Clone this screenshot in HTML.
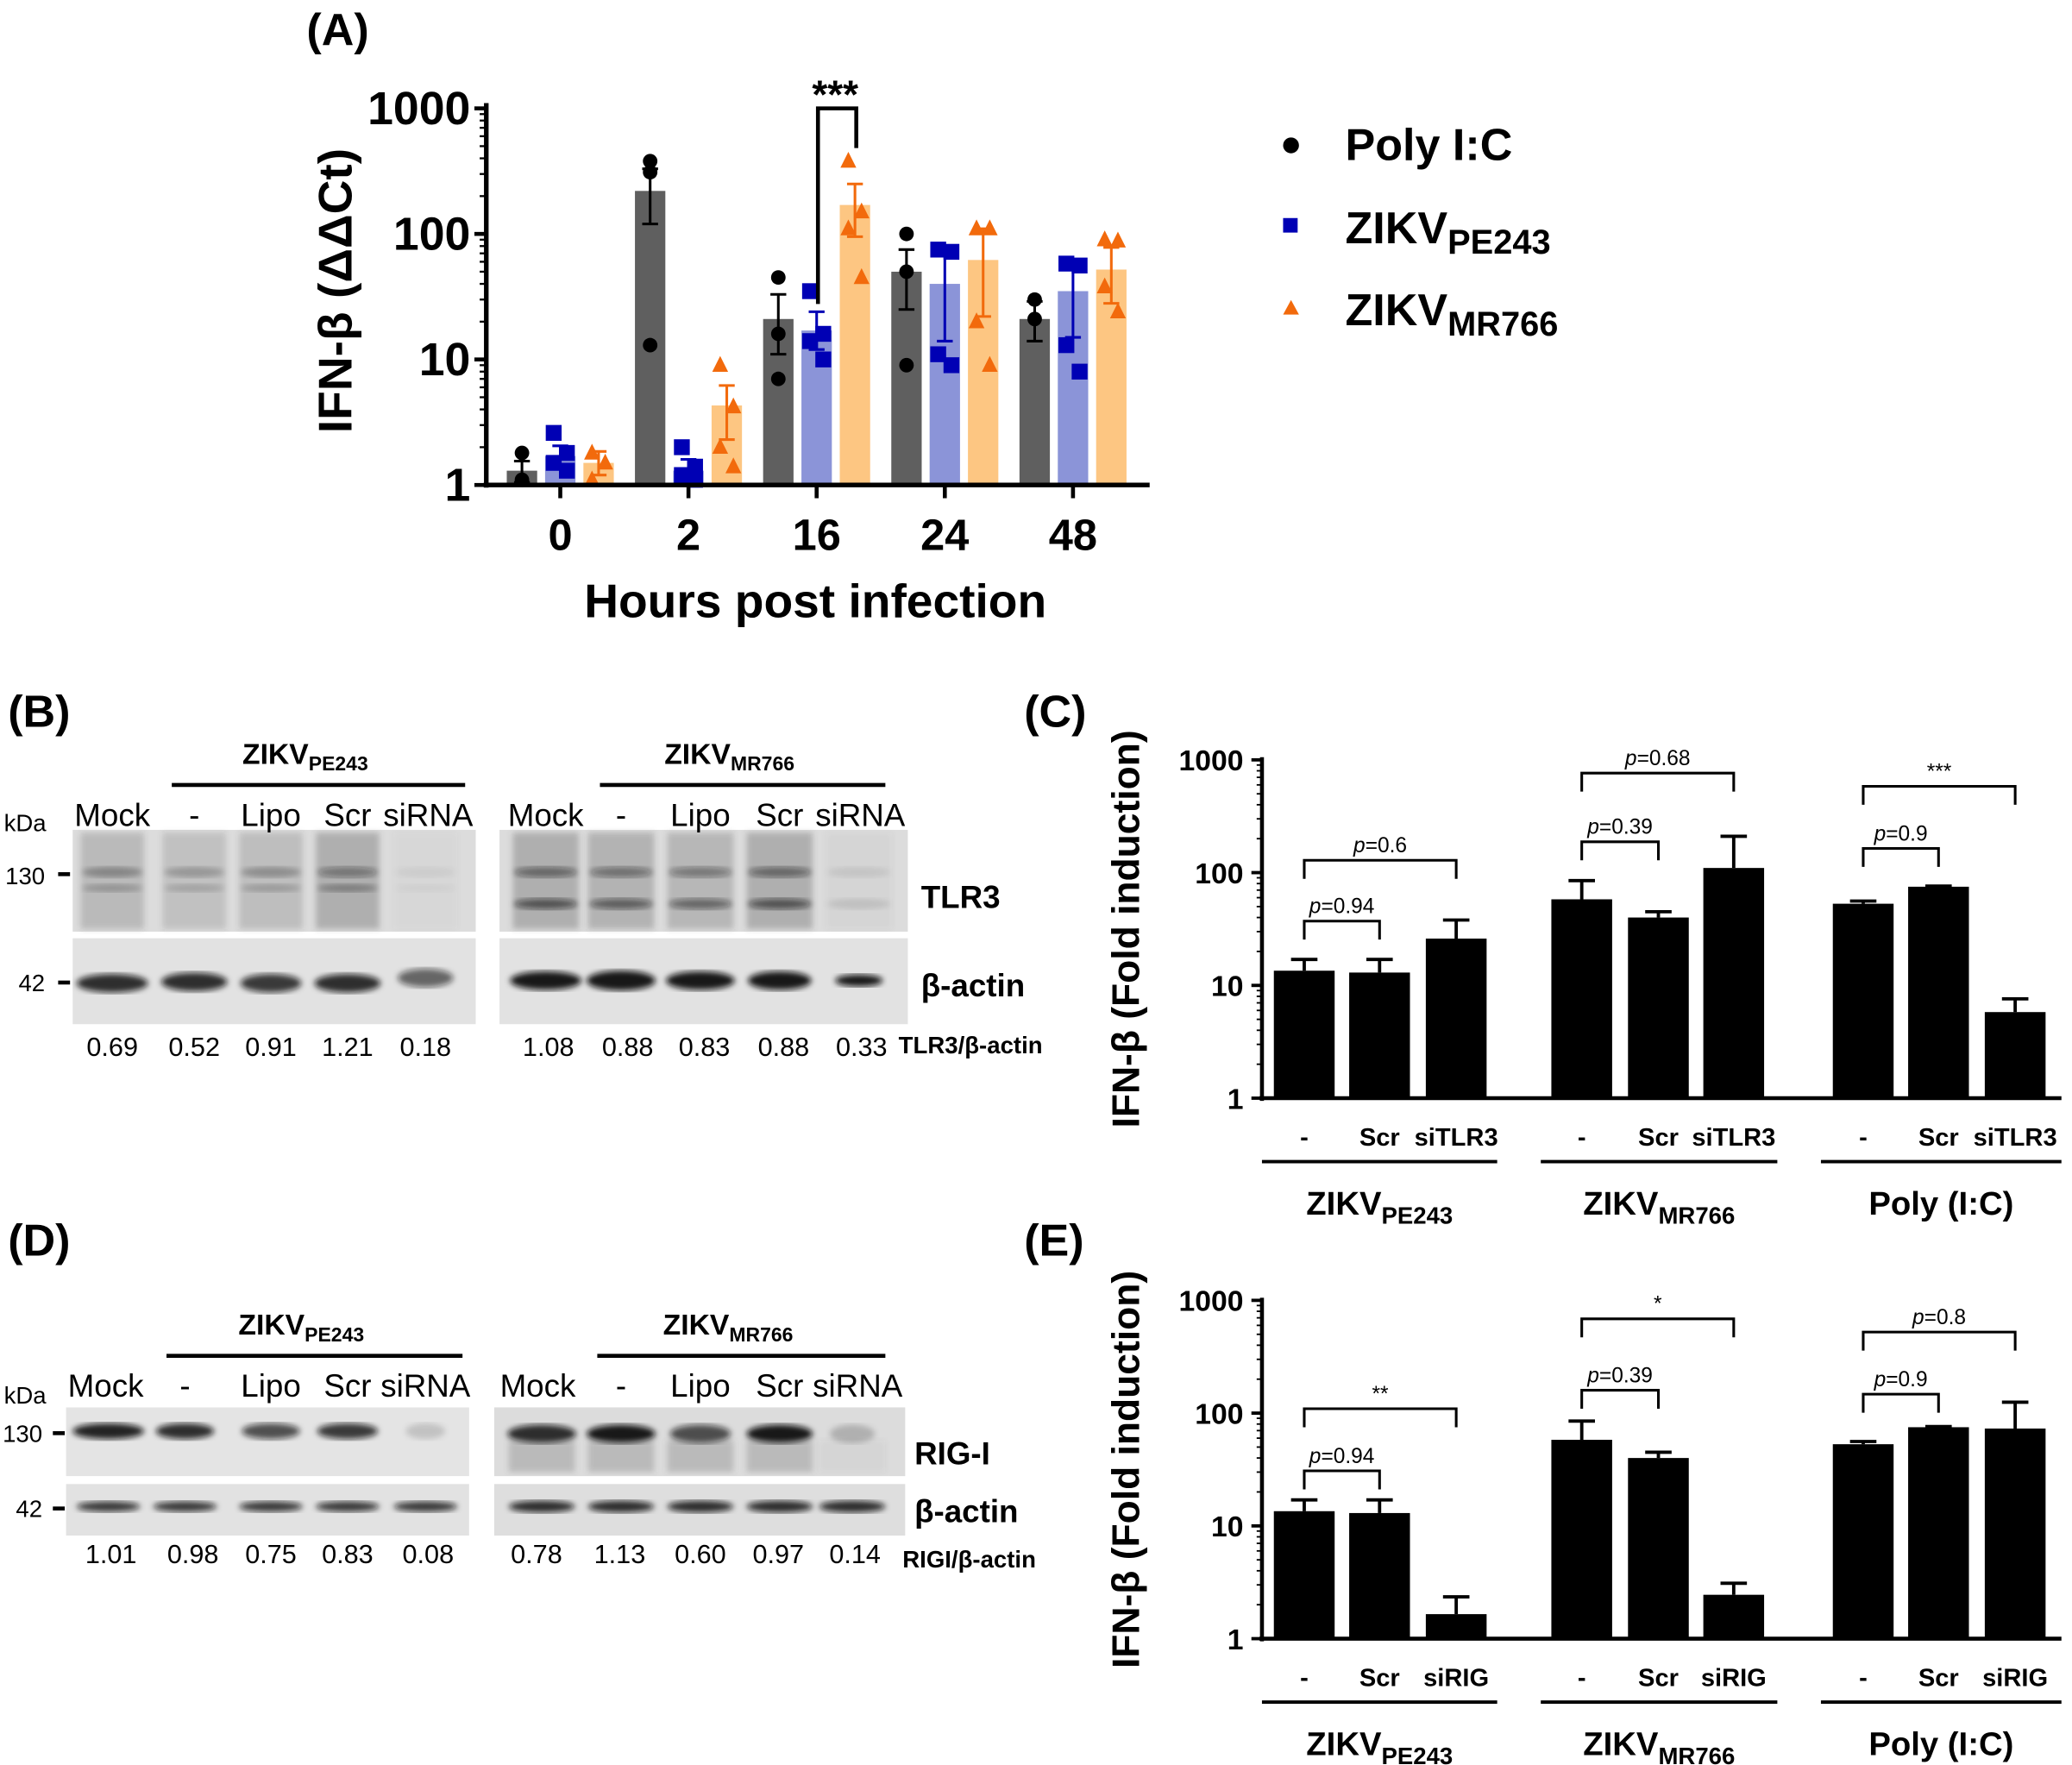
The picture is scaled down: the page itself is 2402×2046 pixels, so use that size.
<!DOCTYPE html>
<html><head><meta charset="utf-8"><style>
html,body{margin:0;padding:0;background:#fff}
svg{display:block}
text{font-family:"Liberation Sans",sans-serif}
.b{font-weight:bold}
</style></head><body>
<svg id="fig" width="2402" height="2046" viewBox="0 0 1568 1335.6" xmlns="http://www.w3.org/2000/svg">
<defs>
<filter id="blur2"><feGaussianBlur stdDeviation="2.2"/></filter>
<filter id="blur4"><feGaussianBlur stdDeviation="4"/></filter>
</defs>
<g id="panelA"></g>
<g id="panelC"></g>
<g id="panelE"></g>
<g id="blots"></g>

<text x="232" y="34" font-size="34" class="b">(A)</text>
<text x="6" y="550" font-size="34" class="b">(B)</text>
<text x="775" y="550" font-size="34" class="b">(C)</text>
<text x="6" y="950" font-size="34" class="b">(D)</text>
<text x="775" y="950" font-size="34" class="b">(E)</text>

<g>
<circle cx="977" cy="110" r="6" fill="#000"/>
<text x="1018" y="121" font-size="34" class="b">Poly I:C</text>
<rect x="971" y="165" width="11" height="11" fill="#0000b4"/>
<text x="1018" y="184" font-size="34" class="b">ZIKV<tspan font-size="26" dy="8">PE243</tspan></text>
<polygon points="977,227 971,238 983,238" fill="#f26a0c"/>
<text x="1018" y="246" font-size="34" class="b">ZIKV<tspan font-size="26" dy="8">MR766</tspan></text>
</g>
</svg>
<script>
// ===== Panel A data =====
const aCats = ["0","2","16","24","48"];
const aPoly = [1.3, 220, 21, 50, 21];
const aPE = [1.7, 1.3, 17, 40, 35];
const aMR = [1.5, 4.3, 170, 62, 52];
const aPolyErr = [[1.05,1.55],[120,330],[11,33],[25,75],[14,29]];
const aPEErr = [[1.4,2.05],[1.05,1.6],[12,24],[14,70],[15,56]];
const aMRErr = [[1.2,1.85],[2.3,6.2],[95,250],[22,110],[28,78]];
const aPolyPts = [[1.8,1.1],[380,310,13],[45,16,7],[100,50,9],[30,21]];
const aPEPts = [[2.6,1.8,1.5,1.3],[2,1.4,1.2,1.1],[35,16,14,10],[75,72,11,9],[58,56,13,8]];
const aMRPts = [[1.8,1.5,1.1],[9,4.2,2,1.4],[380,150,110,45],[110,110,20,9],[90,88,38,24]];
const aTicks = [1,10,100,1000];

// ===== Panel C / E data =====
const ceCats = ["-","Scr","siTLR3","-","Scr","siTLR3","-","Scr","siTLR3"];
const eCats = ["-","Scr","siRIG","-","Scr","siRIG","-","Scr","siRIG"];
const cVals = [13.5,13,26,58,40,110,53,75,5.8];
const cErr = [17,17,38,85,45,210,56,76,7.6];
const eVals = [13.5,13,1.65,58,40,2.45,53,75,73];
const eErr = [17,17,2.35,85,45,3.1,56,76,125];
const ceTicks = [1,10,100,1000];

const NS="http://www.w3.org/2000/svg";
function mk(parent,tag,attrs,txt){const e=document.createElementNS(NS,tag);for(const k in attrs)e.setAttribute(k,attrs[k]);if(txt!==undefined)e.textContent=txt;parent.appendChild(e);return e;}

(function(){
 const g=document.getElementById('panelA');
 const y0=367, dec=95, x0=368, x1=870;
 const ya=v=>y0-dec*Math.log10(v);
 const xa=i=>424+i*97;
 const off=[-29,0,29];
 const barCol=["#5f5f5f","#8b94d8","#fdc682"];
 const mkCol=["#000","#0000b4","#f26a0c"];
 const vals=[aPoly,aPE,aMR], errs=[aPolyErr,aPEErr,aMRErr], pts=[aPolyPts,aPEPts,aMRPts];
 for(let s=0;s<3;s++){
  for(let i=0;i<aCats.length;i++){
   const cx=xa(i)+off[s], top=ya(vals[s][i]);
   const r=mk(g,'rect',{x:cx-11.5,y:top,width:23,height:y0-top,fill:barCol[s]});
   
   
  }
 }
 for(let s=0;s<3;s++){
  for(let i=0;i<aCats.length;i++){
   const cx=xa(i)+off[s];
   const [lo,hi]=errs[s][i];
   mk(g,'line',{x1:cx,x2:cx,y1:ya(lo),y2:ya(hi),stroke:mkCol[s],'stroke-width':2});
   mk(g,'line',{x1:cx-6,x2:cx+6,y1:ya(lo),y2:ya(lo),stroke:mkCol[s],'stroke-width':2});
   mk(g,'line',{x1:cx-6,x2:cx+6,y1:ya(hi),y2:ya(hi),stroke:mkCol[s],'stroke-width':2});
   pts[s][i].forEach((v,k)=>{
    const px=cx+(pts[s][i].length>2?((k%2)?5:-5):0)*(s===0?0:1), py=ya(v);
    let m;
    if(s===0) m=mk(g,'circle',{cx:cx,cy:py,r:5.5,fill:mkCol[s]});
    else if(s===1) m=mk(g,'rect',{x:px-6,y:py-6,width:12,height:12,fill:mkCol[s]});
    else m=mk(g,'polygon',{points:`${px},${py-7} ${px-6},${py+5} ${px+6},${py+5}`,fill:mkCol[s]});
    
    
   });
  }
 }
 mk(g,'line',{x1:x0,x2:x0,y1:78,y2:y0+2,stroke:'#000','stroke-width':3.5});
 mk(g,'line',{x1:x0-2,x2:x1,y1:y0,y2:y0,stroke:'#000','stroke-width':3.5});
 for(let d=0;d<3;d++)for(let m=2;m<10;m++){const yy=ya(m*Math.pow(10,d));mk(g,'line',{x1:x0-5,x2:x0,y1:yy,y2:yy,stroke:'#000','stroke-width':1.5});}
 aTicks.forEach(t=>{const yy=ya(t);mk(g,'line',{x1:x0-9,x2:x0,y1:yy,y2:yy,stroke:'#000','stroke-width':3});
  const tl=mk(g,'text',{x:x0-12,y:yy+12,'font-size':35,'text-anchor':'end','font-weight':'bold'},String(t));
  
  });
 aCats.forEach((c,i)=>{mk(g,'line',{x1:xa(i),x2:xa(i),y1:y0,y2:y0+10,stroke:'#000','stroke-width':3});
  const tl=mk(g,'text',{x:xa(i),y:416,'font-size':33,'text-anchor':'middle','font-weight':'bold'},c);
  
  });
 const xt=mk(g,'text',{x:617,y:467,'font-size':36,'text-anchor':'middle','font-weight':'bold'},'Hours post infection');
 
 
 const yt=mk(g,'text',{x:0,y:0,'font-size':36,'text-anchor':'middle','font-weight':'bold',transform:'translate(266,220) rotate(-90)'},'IFN-β (ΔΔCt)');
 
 
 mk(g,'path',{d:`M619,230 V82 H648 V112`,fill:'none',stroke:'#000','stroke-width':3});
 mk(g,'text',{x:632,y:82,'font-size':30,'text-anchor':'middle','font-weight':'bold'},'***');
})();

function barPanel(id,y0,vals,errs,cats,label,brackets){
 const g=document.getElementById(id);
 const dec=256/3;
 const ya=v=>y0-dec*Math.log10(v);
 const x0=955, x1=1560;
 const xs=[987,1044,1102,1197,1255,1312,1410,1467,1525];
 const xa=i=>xs[i];
 vals.forEach((v,i)=>{
  const top=ya(v);
  const r=mk(g,'rect',{x:xa(i)-23,y:top,width:46,height:y0-top,fill:'#000'});
  
  
  const et=ya(errs[i]);
  mk(g,'line',{x1:xa(i),x2:xa(i),y1:top,y2:et,stroke:'#000','stroke-width':2.5});
  mk(g,'line',{x1:xa(i)-10,x2:xa(i)+10,y1:et,y2:et,stroke:'#000','stroke-width':2.5});
 });
 mk(g,'line',{x1:x0,x2:x0,y1:y0-258,y2:y0+2,stroke:'#000','stroke-width':3});
 mk(g,'line',{x1:x0-2,x2:x1,y1:y0,y2:y0,stroke:'#000','stroke-width':3});
 for(let d=0;d<3;d++)for(let m=2;m<10;m++){const yy=ya(m*Math.pow(10,d));mk(g,'line',{x1:x0-4,x2:x0,y1:yy,y2:yy,stroke:'#000','stroke-width':1.2});}
 ceTicks.forEach(t=>{const yy=ya(t);mk(g,'line',{x1:x0-8,x2:x0,y1:yy,y2:yy,stroke:'#000','stroke-width':2.5});
  const tl=mk(g,'text',{x:x0-14,y:yy+8,'font-size':22,'text-anchor':'end','font-weight':'bold'},String(t));
  
  });
 cats.forEach((c,i)=>{const tl=mk(g,'text',{x:xa(i),y:y0+36,'font-size':19,'text-anchor':'middle','font-weight':'bold'},c);
  
  });
 const grp=[[955,1133,'ZIKV','PE243'],[1166,1345,'ZIKV','MR766'],[1378,1560,'Poly (I:C)','']];
 grp.forEach((gg,k)=>{mk(g,'line',{x1:gg[0],x2:gg[1],y1:y0+48,y2:y0+48,stroke:'#000','stroke-width':2.5});
  const t=mk(g,'text',{x:(gg[0]+gg[1])/2,y:y0+88,'font-size':25,'text-anchor':'middle','font-weight':'bold'});
  
  
  t.appendChild(document.createTextNode(gg[2]));
  if(gg[3]){mk(t,'tspan',{'font-size':18,dy:7},gg[3]);}
 });
 const yt=mk(g,'text',{x:0,y:0,'font-size':29,'text-anchor':'middle','font-weight':'bold',transform:`translate(862,${y0-128}) rotate(-90)`},'IFN-β (Fold induction)');
 
 
 brackets.forEach(b=>{
  const [a,c,yy,txt]=b;
  mk(g,'path',{d:`M${xa(a)},${yy+14} V${yy} H${xa(c)} V${yy+14}`,fill:'none',stroke:'#000','stroke-width':2});
  const it=txt.startsWith('p=');
  const t=mk(g,'text',{x:(xa(a)+xa(c))/2,y:yy-6,'font-size':16,'text-anchor':'middle'});
  if(it){mk(t,'tspan',{'font-style':'italic'},'p');t.appendChild(document.createTextNode(txt.slice(1)));}else t.textContent=txt;
 });
}
barPanel('panelC',831,cVals,cErr,ceCats,'c',[[0,1,697,'p=0.94'],[0,2,651,'p=0.6'],[3,4,637,'p=0.39'],[3,5,585,'p=0.68'],[6,7,642,'p=0.9'],[6,8,595,'***']]);
barPanel('panelE',1240,eVals,eErr,eCats,'e',[[0,1,1113,'p=0.94'],[0,2,1066,'**'],[3,4,1052,'p=0.39'],[3,5,998,'*'],[6,7,1055,'p=0.9'],[6,8,1008,'p=0.8']]);

(function(){
 const g=document.getElementById('blots');
 function blot(x,y,w,h,bg){return mk(g,'rect',{x:x,y:y,width:w,height:h,fill:bg});}
 function band(cx,cy,w,h,op,blur){mk(g,'ellipse',{cx:cx,cy:cy,rx:w/2,ry:h/2,fill:'#111','fill-opacity':op,filter:`url(#${blur})`});}
 const lB=[85,147,205,263,322], rB=[413,470,530,590,650];
 blot(55,628,305,77,'#dcdcdc'); blot(378,628,309,77,'#dcdcdc');
 blot(55,710,305,65,'#e2e2e2'); blot(378,710,309,65,'#e2e2e2');
 lB.forEach((c,i)=>{const o=[0.22,0.17,0.2,0.3,0.04][i];mk(g,'rect',{x:c-24,y:630,width:48,height:73,fill:'#444','fill-opacity':o,filter:'url(#blur2)'});band(c,660,46,8,o*1.3,'blur2');band(c,672,46,6,o,'blur2');});
 rB.forEach((c,i)=>{const o=[0.3,0.27,0.25,0.3,0.05][i];mk(g,'rect',{x:c-25,y:630,width:50,height:73,fill:'#444','fill-opacity':o,filter:'url(#blur2)'});band(c,660,48,8,o*1.6,'blur2');band(c,684,48,8,o*2,'blur2');});
 lB.forEach((c,i)=>band(c,[744,743,744,744,740][i],[54,50,46,50,42][i],14,[0.85,0.85,0.8,0.85,0.6][i],'blur2'));
 rB.forEach((c,i)=>band(c,742,[54,52,52,48,36][i],[14,15,14,14,9][i],0.95,'blur2'));
 const lD=[82,140,205,263,322], rD=[410,470,530,590,645];
 blot(50,1065,305,52,'#e4e4e4'); blot(374,1065,311,52,'#dcdcdc');
 blot(50,1123,305,39,'#e2e2e2'); blot(374,1123,311,39,'#dedede');
 lD.forEach((c,i)=>band(c,1083,[54,44,44,46,30][i],12,[0.9,0.85,0.7,0.8,0.15][i],'blur2'));
 rD.forEach((c,i)=>{band(c,1085,[52,52,46,50,34][i],14,[0.85,0.95,0.7,0.95,0.2][i],'blur2');mk(g,'rect',{x:c-25,y:1090,width:50,height:24,fill:'#555','fill-opacity':i===4?0.05:0.25,filter:'url(#blur2)'});});
 lD.forEach((c)=>band(c,1140,48,8,0.8,'blur2'));
 rD.forEach((c)=>band(c,1140,50,9,0.85,'blur2'));
 function T(x,y,s,t,opts){return mk(g,'text',Object.assign({x:x,y:y,'font-size':s},opts||{}),t);}
 function header(x1,x2,y,sub){mk(g,'line',{x1:x1,x2:x2,y1:y,y2:y,stroke:'#000','stroke-width':3});
  const t=T((x1+x2)/2-10,y-16,22,'ZIKV',{'text-anchor':'middle','font-weight':'bold'});mk(t,'tspan',{'font-size':15,dy:5},sub);}
 header(130,352,594,'PE243'); header(454,670,594,'MR766');
 header(126,350,1026,'PE243'); header(452,670,1026,'MR766');
 const lanes=["Mock","-","Lipo","Scr","siRNA"];
 lB.forEach((c,i)=>T(i===4?324:c,625,24,lanes[i],{'text-anchor':'middle'}));
 rB.forEach((c,i)=>T(i===4?651:c,625,24,lanes[i],{'text-anchor':'middle'}));
 lD.forEach((c,i)=>T(i===0?80:(i===4?322:c),1057,24,lanes[i],{'text-anchor':'middle'}));
 rD.forEach((c,i)=>T(i===0?407:(i===4?649:c),1057,24,lanes[i],{'text-anchor':'middle'}));
 T(3,629,18,'kDa'); T(3,1062,18,'kDa');
 T(4,669,18,'130'); mk(g,'rect',{x:44,y:660,width:9,height:3,fill:'#000'});
 T(14,750,18,'42'); mk(g,'rect',{x:44,y:742,width:9,height:3,fill:'#000'});
 T(2,1091,18,'130'); mk(g,'rect',{x:40,y:1083,width:9,height:3,fill:'#000'});
 T(12,1148,18,'42'); mk(g,'rect',{x:40,y:1140,width:9,height:3,fill:'#000'});
 T(697,687,24,'TLR3',{'font-weight':'bold'}); T(697,754,24,'β-actin',{'font-weight':'bold'});
 T(692,1108,24,'RIG-I',{'font-weight':'bold'}); T(692,1152,24,'β-actin',{'font-weight':'bold'});
 const qB1=["0.69","0.52","0.91","1.21","0.18"], qB2=["1.08","0.88","0.83","0.88","0.33"];
 const qD1=["1.01","0.98","0.75","0.83","0.08"], qD2=["0.78","1.13","0.60","0.97","0.14"];
 lB.forEach((c,i)=>T(c,799,20,qB1[i],{'text-anchor':'middle'}));
 [415,475,533,593,652].forEach((c,i)=>T(c,799,20,qB2[i],{'text-anchor':'middle'}));
 [84,146,205,263,324].forEach((c,i)=>T(c,1183,20,qD1[i],{'text-anchor':'middle'}));
 [406,469,530,589,647].forEach((c,i)=>T(c,1183,20,qD2[i],{'text-anchor':'middle'}));
 T(680,797,18,'TLR3/β-actin',{'font-weight':'bold'});
 T(683,1186,18,'RIGI/β-actin',{'font-weight':'bold'});
})();
</script>
</body></html>
